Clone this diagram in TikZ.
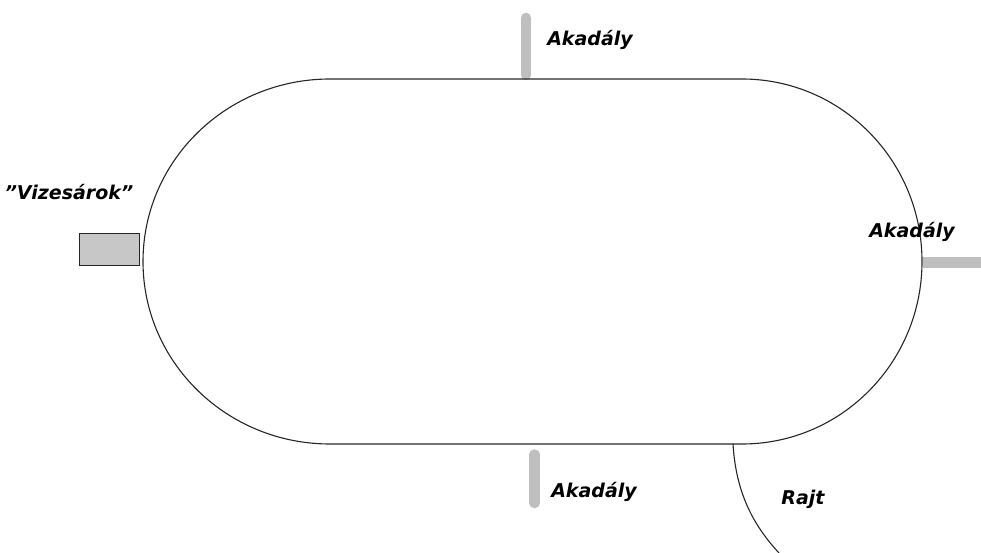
\documentclass[tikz,border=0pt]{standalone}
\usepackage{fontspec}
\setmainfont{DejaVu Sans}
\begin{document}
\begin{tikzpicture}[x=1pt,y=-1pt,
  lbl/.style={font=\fontsize{19}{21}\selectfont\bfseries\itshape, inner sep=0pt},
  bar/.style={line width=10.5pt, draw=black!25},
  trk/.style={line width=1.1pt, draw=black!85}]
\useasboundingbox (0,0) rectangle (981,553);
% obstacles
\draw[bar, line cap=round] (526,18) -- (526,75);
\draw[bar, line cap=round] (534.5,454.5) -- (534.5,503);
\draw[bar] (923,262.5) -- (985,262.5);
% track
\draw[trk] (330,79) -- (742,79)
  arc[start angle=-90,end angle=90,x radius=180,y radius=182.5]
  -- (330,444)
  arc[start angle=90,end angle=270,x radius=187,y radius=182.5] -- cycle;
% start curve
\coordinate (rs) at (733,444);
\coordinate (re) at (779,553);
\draw[trk] (rs) .. controls (736,495) and (755,527) .. (re);
% water ditch
\node[draw=black!85, line width=1pt, fill=black!22, minimum width=60pt, minimum height=32pt, inner sep=0pt] (viz) at (109,249) {};
% labels
\node[lbl] (tv) at (69,192) {\symbol{34}Vizesárok\symbol{34}};
\node[lbl] (a1) at (590,40) {Akadály};
\node[lbl] (a2) at (912,232) {Akadály};
\node[lbl] (a3) at (594,492) {Akadály};
\node[lbl] (rj) at (803,499) {Rajt};
\end{tikzpicture}
\end{document}
